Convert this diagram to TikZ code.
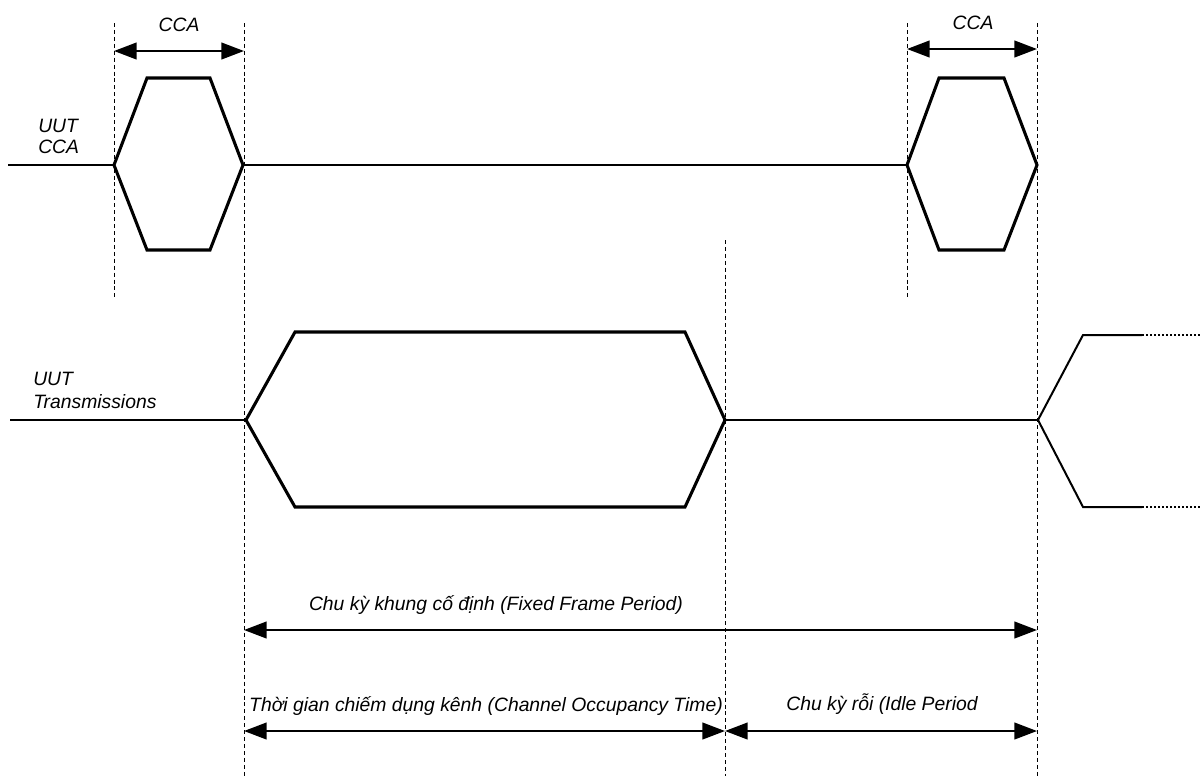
\documentclass[tikz,border=0pt]{standalone}
\usepackage{fontspec}
\setmainfont{Liberation Sans}
\usetikzlibrary{arrows.meta}
\begin{document}
\begin{tikzpicture}[x=0.75pt,y=-0.75pt,
  pulse/.style={line width=2.3pt, line join=miter},
  sigline/.style={line width=1.2pt},
  busyline/.style={line width=2.1pt},
  guide/.style={line width=0.6pt, dash pattern=on 3pt off 2.2pt},
  tail/.style={line width=1.1pt, dash pattern=on 1.5pt off 1.5pt},
  span/.style={line width=1.6pt, {Triangle[length=17pt,width=12.5pt]}-{Triangle[length=17pt,width=12.5pt]}},
  lbl/.style={font=\fontsize{14.5}{17}\selectfont\itshape, inner sep=0pt}
]
\useasboundingbox (0,0) rectangle (1201,776);

% vertical time markers
\coordinate (g1t) at (114,23);  \coordinate (g1b) at (114,297);
\coordinate (g2t) at (244,23);  \coordinate (g2b) at (244,776);
\coordinate (g3t) at (725,240); \coordinate (g3b) at (725,776);
\coordinate (g4t) at (907,23);  \coordinate (g4b) at (907,297);
\coordinate (g5t) at (1037,23); \coordinate (g5b) at (1037,776);
\foreach \g in {1,...,5} \draw[guide] (g\g t) -- (g\g b);

% row 1: UUT CCA
\node[lbl, anchor=west] (uut1) at (38,126) {UUT};
\node[lbl, anchor=west] (cca1) at (38,147) {CCA};
\coordinate (r1s) at (8,165);
\coordinate (c1l) at (114,165);
\coordinate (c1r) at (243,165);
\coordinate (c2l) at (907,165);
\coordinate (c2r) at (1037,165);
\draw[sigline] (r1s) -- (c1l);
\draw[pulse] (c1l) -- (147,78) -- (210,78) -- (c1r) -- (210,250) -- (147,250) -- cycle;
\draw[busyline] (c1r) -- (c2l);
\draw[pulse] (c2l) -- (939,78) -- (1004,78) -- (c2r) -- (1004,250) -- (939,250) -- cycle;

% CCA windows
\coordinate (a1l) at (114,51); \coordinate (a1r) at (244,51);
\coordinate (a2l) at (907,49); \coordinate (a2r) at (1037,49);
\draw[span] (a1l) -- (a1r);
\draw[span] (a2l) -- (a2r);
\node[lbl] (ccat1) at (179,25) {CCA};
\node[lbl] (ccat2) at (973,23) {CCA};

% row 2: UUT transmissions
\node[lbl, anchor=west] (uut2) at (33,379) {UUT};
\node[lbl, anchor=west] (tx2) at (33,402) {Transmissions};
\coordinate (r2s) at (10,420);
\coordinate (t1l) at (246,420);
\coordinate (t1r) at (725,420);
\coordinate (t2l) at (1038,420);
\draw[sigline] (r2s) -- (t1l);
\draw[pulse] (t1l) -- (295,332) -- (685,332) -- (t1r) -- (685,507) -- (295,507) -- cycle;
\draw[sigline] (t1r) -- (t2l);
\draw[line width=1.5pt] (1142,335) -- (1083,335) -- (t2l) -- (1083,507) -- (1142,507);
\draw[tail] (1142,335) -- (1201,335);
\draw[tail] (1142,507) -- (1201,507);

% periods
\coordinate (ffl) at (244,630); \coordinate (ffr) at (1037,630);
\coordinate (col) at (244,731); \coordinate (cor) at (725,731);
\coordinate (idl) at (725,731); \coordinate (idr) at (1037,731);
\draw[span] (ffl) -- (ffr);
\draw[span] (col) -- (cor);
\draw[span] (idl) -- (idr);
\node[lbl] (fft) at (496,605) {Chu kỳ khung cố định (Fixed Frame Period)};
\node[lbl] (cot) at (486,706) {Thời gian chiếm dụng kênh (Channel Occupancy Time)};
\node[lbl] (idt) at (882,704) {Chu kỳ rỗi (Idle Period};
\end{tikzpicture}
\end{document}
